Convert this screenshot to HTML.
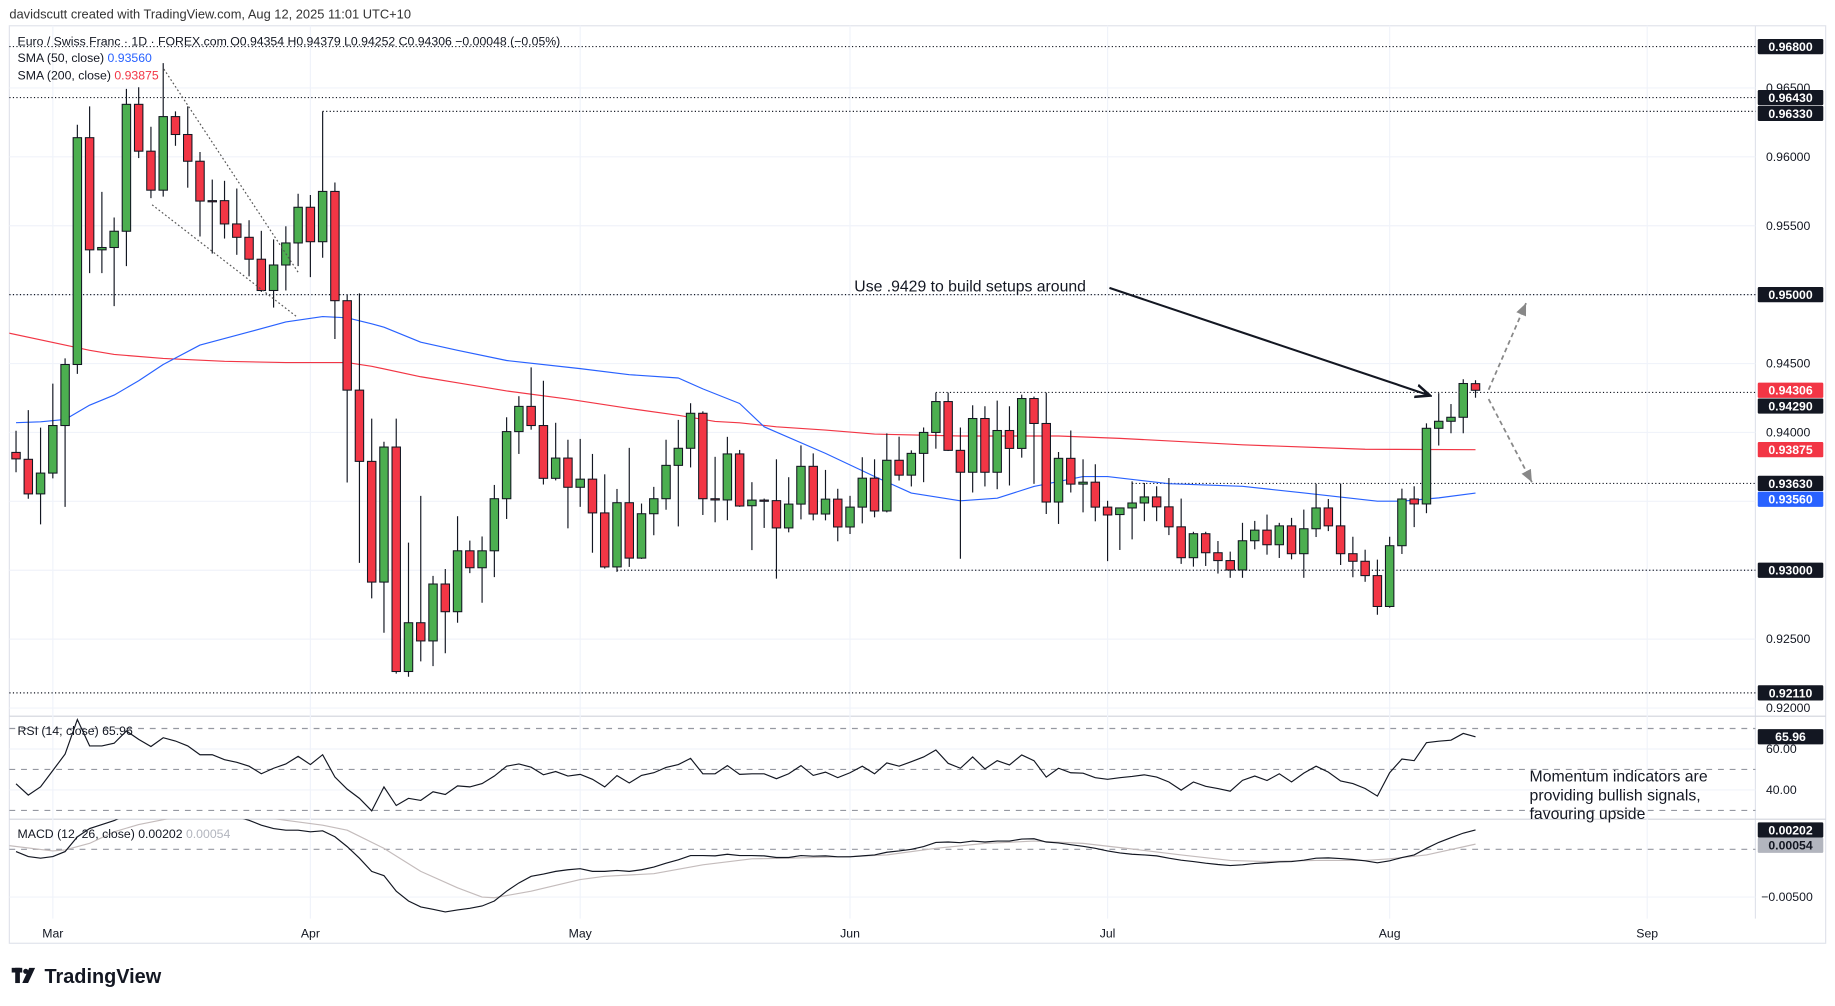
<!DOCTYPE html>
<html><head><meta charset="utf-8">
<style>
html,body{margin:0;padding:0;background:#fff;}
svg{display:block;font-family:"Liberation Sans",sans-serif;}
</style></head>
<body>
<svg id="chart" width="1835" height="1006" viewBox="0 0 1568 859.6" xmlns="http://www.w3.org/2000/svg">
  <rect x="0" y="0" width="1568" height="859.6" fill="#ffffff"/>
  <text x="8" y="16" font-size="11" fill="#333">davidscutt created with TradingView.com, Aug 12, 2025 11:01 UTC+10</text>
  <rect x="8" y="22" width="1552" height="784" fill="none" stroke="#e0e3eb" stroke-width="1"/>
  <line x1="1500" y1="22" x2="1500" y2="785" stroke="#e0e3eb"/>
  <line x1="8" y1="612" x2="1560" y2="612" stroke="#d1d4dc"/>
  <line x1="8" y1="700" x2="1560" y2="700" stroke="#d1d4dc"/>
  <defs>
    <clipPath id="mainClip"><rect x="8" y="22" width="1492" height="590"/></clipPath>
    <clipPath id="rsiClip"><rect x="8" y="612" width="1492" height="88"/></clipPath>
    <clipPath id="macdClip"><rect x="8" y="700" width="1492" height="85"/></clipPath>
  </defs>
  <g id="grid"></g>
  <g id="levels"></g>
  <g id="main" clip-path="url(#mainClip)"></g>
  <g id="rsi" clip-path="url(#rsiClip)"></g>
  <g id="macd" clip-path="url(#macdClip)"></g>
  <g id="axis"></g>
  <g id="notes"></g>
  <text x="15" y="39" font-size="10.5" fill="#131722">Euro / Swiss Franc · 1D · FOREX.com  O0.94354  H0.94379  L0.94252  C0.94306  −0.00048 (−0.05%)</text>
  <text x="15" y="53" font-size="10.5" fill="#131722">SMA (50, close) <tspan fill="#2962ff">0.93560</tspan></text>
  <text x="15" y="68" font-size="10.5" fill="#131722">SMA (200, close) <tspan fill="#f23645">0.93875</tspan></text>
  <text x="15" y="628" font-size="10.5" fill="#131722">RSI (14, close)  65.96</text>
  <text x="15" y="716" font-size="10.5" fill="#131722">MACD (12, 26, close)  0.00202  <tspan fill="#b2b5be">0.00054</tspan></text>
  <g>
    <rect x="10" y="827" width="9" height="4" fill="#131722"/>
    <rect x="13" y="827" width="4" height="13" fill="#131722"/>
    <circle cx="22" cy="830" r="2.2" fill="#131722"/>
    <polygon points="25,827 30,827 24,840 19,840" fill="#131722"/>
    <text x="38" y="840" font-size="17" font-weight="bold" fill="#131722">TradingView</text>
  </g>
</svg>
<script>
// ---------- data ----------
const opens=[0.93855,0.93805,0.93554,0.93705,0.9405,0.94493,0.96139,0.95325,0.95342,0.9546,
0.96381,0.96041,0.95758,0.96292,0.96162,0.95968,0.95682,0.95682,0.95513,0.95416,
0.95257,0.9503,0.95215,0.95375,0.95634,0.95384,0.95749,0.94956,0.94307,0.9379,
0.92914,0.93894,0.92265,0.92619,0.92487,0.929,0.92699,0.93141,0.93018,0.93141,
0.93519,0.94006,0.94189,0.9405,0.93667,0.93814,0.93602,0.93661,0.93416,0.93024,
0.9349,0.93088,0.9341,0.93519,0.93761,0.93885,0.94139,0.93519,0.9351,0.93844,
0.93468,0.93509,0.93505,0.93307,0.9348,0.93754,0.93408,0.93516,0.93314,0.93458,
0.93668,0.9343,0.93798,0.9369,0.93848,0.94,0.94224,0.9387,0.93711,0.94101,
0.93711,0.94014,0.93884,0.94246,0.94065,0.93495,0.93812,0.93625,0.93639,0.93458,
0.93404,0.93452,0.93488,0.93532,0.9346,0.93315,0.93091,0.93265,0.93127,0.9307,
0.93002,0.93214,0.93291,0.93185,0.93322,0.9312,0.93301,0.93452,0.93322,0.9312,
0.93065,0.92961,0.92737,0.93178,0.93517,0.93481,0.9403,0.94081,0.9411,0.94354];
const highs=[0.94012,0.94162,0.94035,0.94354,0.94537,0.96233,0.96366,0.95746,0.9556,0.96493,
0.96505,0.96218,0.9668,0.9633,0.96366,0.96035,0.95835,0.95826,0.9577,0.9554,
0.95463,0.95401,0.95496,0.95732,0.95723,0.9633,0.95814,0.95,0.95009,0.941,
0.93932,0.941,0.932,0.9354,0.92959,0.93009,0.93392,0.93215,0.93245,0.93619,
0.9411,0.94263,0.94472,0.94375,0.9407,0.93947,0.93953,0.93844,0.93696,0.9359,
0.93888,0.93484,0.93605,0.93947,0.94091,0.94212,0.94153,0.93823,0.93968,0.93873,
0.93639,0.9352,0.93805,0.93675,0.93906,0.93848,0.93728,0.93591,0.9354,0.9382,
0.93805,0.93993,0.93969,0.9387,0.94036,0.94289,0.94289,0.94036,0.94197,0.9419,
0.94231,0.9419,0.94274,0.9426,0.94289,0.93858,0.94014,0.93805,0.93769,0.93504,
0.93452,0.93645,0.93633,0.93609,0.93669,0.9352,0.93279,0.93279,0.93212,0.93135,
0.93344,0.93358,0.93404,0.93344,0.9338,0.9344,0.93628,0.93517,0.93628,0.93243,
0.93149,0.93077,0.93243,0.93592,0.93609,0.94066,0.94285,0.94206,0.94386,0.94379];
const lows=[0.93711,0.93519,0.93333,0.93667,0.9346,0.94425,0.95156,0.95156,0.94917,0.95207,
0.95991,0.957,0.95711,0.9608,0.95776,0.95422,0.95298,0.95407,0.95289,0.95133,
0.9502,0.94906,0.9503,0.95207,0.95127,0.95268,0.94678,0.93637,0.93053,0.92796,
0.92546,0.9225,0.92227,0.92339,0.92304,0.92398,0.92619,0.92979,0.92764,0.9295,
0.93372,0.93844,0.9402,0.93622,0.93652,0.93304,0.9346,0.93127,0.93012,0.92988,
0.93024,0.93082,0.93254,0.93439,0.93318,0.93746,0.93401,0.93348,0.93363,0.9346,
0.93146,0.93307,0.92939,0.93275,0.93369,0.93362,0.93362,0.9321,0.93263,0.9334,
0.93384,0.9342,0.93651,0.93608,0.93639,0.93882,0.93865,0.93083,0.93564,0.93608,
0.93588,0.93615,0.93817,0.93627,0.93408,0.93336,0.93564,0.9342,0.93355,0.93066,
0.93147,0.93224,0.93356,0.93356,0.93255,0.93046,0.93026,0.93031,0.92976,0.92945,
0.92945,0.93152,0.93113,0.93089,0.93079,0.92945,0.93241,0.93284,0.93038,0.92949,
0.92916,0.92677,0.92728,0.93118,0.93313,0.93414,0.93905,0.93994,0.93994,0.94252];
const closes=[0.93808,0.93554,0.93705,0.9405,0.94493,0.96139,0.95325,0.95342,0.9546,0.96381,
0.96041,0.95758,0.96292,0.96162,0.95968,0.95679,0.95679,0.95513,0.95416,0.95257,
0.9503,0.95215,0.95375,0.95634,0.95384,0.95749,0.94956,0.94307,0.9379,0.92914,
0.93894,0.92265,0.92619,0.92487,0.929,0.92699,0.93141,0.93018,0.93141,0.93519,
0.94006,0.94189,0.9405,0.93667,0.93814,0.93602,0.93661,0.93416,0.93024,0.9349,
0.93088,0.9341,0.93519,0.93761,0.93885,0.94139,0.93519,0.9351,0.93844,0.93466,
0.93509,0.93505,0.93307,0.9348,0.93754,0.93408,0.93516,0.93314,0.93458,0.93668,
0.9343,0.93798,0.9369,0.93848,0.94,0.94224,0.9387,0.93711,0.94101,0.93711,
0.94014,0.93884,0.94246,0.94065,0.93495,0.93812,0.93625,0.93639,0.93458,0.93401,
0.93452,0.93488,0.93532,0.9346,0.93315,0.93091,0.93265,0.93127,0.9307,0.93002,
0.93214,0.93291,0.93185,0.93322,0.9312,0.93301,0.93452,0.93322,0.9312,0.93065,
0.92961,0.92737,0.93178,0.93517,0.93481,0.9403,0.94081,0.9411,0.94355,0.94306];
const sma50Idx=[0,2,4,6,8,10,12,15,19,22,25,27,29,30,33,36,40,46,50,54,56,59,61,66,70,73,77,80,83,87,89,94,100,105,111,113,116,119];
const sma50Val=[0.94071,0.94077,0.94094,0.94198,0.94271,0.94375,0.94493,0.94634,0.94729,0.94802,0.94841,0.94832,0.94788,0.94764,0.94655,0.94596,0.94522,0.94463,0.94419,0.94395,0.94316,0.9421,0.94041,0.93848,0.9368,0.9356,0.93504,0.93523,0.93608,0.9368,0.9368,0.93628,0.93609,0.93561,0.93501,0.93501,0.93525,0.9356];
const sma200Idx=[-1,4,6,8,12,17,22,27,29,33,36,40,45,50,54,57,59,62,66,70,77,85,90,100,110,119];
const sma200Val=[0.94729,0.94634,0.94596,0.94566,0.94537,0.94516,0.94507,0.94507,0.9448,0.94404,0.9436,0.94301,0.94242,0.94174,0.94124,0.9408,0.9407,0.94041,0.94017,0.93988,0.93974,0.93974,0.93957,0.9391,0.93878,0.93875];
const rsiVals=[43,37.5,41.5,49.5,57.5,74.4,61.5,61.5,62.8,68.8,
64.7,61.2,65.5,63.9,61.5,57.2,57.2,54.8,53.5,51.6,
47.9,50.6,52.7,56.4,52.4,57.2,46.3,40.4,35.9,29.8,
41.5,32.4,35.9,34.9,39.1,37.8,42,41.5,43.1,46.8,
51.6,52.7,51.1,47.4,49,46.8,47.6,45.2,41.5,47,
43.4,47.1,48.4,51,52.4,55.4,47.9,47.9,51.9,47.6,
47.9,47.9,45.5,47.9,51.9,47.1,48.7,46,48.4,51.6,
47.9,53.2,51.6,53.8,56.1,59.5,53,50.6,56.1,50.3,
54.3,52.2,57.1,54.3,46.3,50.6,48.4,48.2,46,45.2,
46,46.6,47.4,46.3,43.9,39.9,43.9,41.8,40.7,39.4,
44.7,46.8,44.6,47.9,43.9,48.2,51.6,48.7,44.4,43.1,
40.7,37,48.4,55.1,54.3,63.1,63.8,64.3,67.6,65.96];
const macdVals=[-0.00024,-0.00076,-0.00093,-0.00076,-0.00024,0.0013,0.00217,0.00259,0.003,0.0036,
0.0042,0.0047,0.005,0.0051,0.005,0.0047,0.0043,0.0039,0.0034,0.00303,
0.00252,0.00217,0.002,0.002,0.00183,0.00193,0.00131,0.00028,-0.00093,-0.00231,
-0.00276,-0.00438,-0.00541,-0.00603,-0.00628,-0.00655,-0.00634,-0.00617,-0.00593,-0.00541,
-0.00438,-0.00352,-0.00283,-0.00259,-0.00231,-0.00214,-0.00203,-0.00231,-0.00231,-0.00221,
-0.00231,-0.00214,-0.00186,-0.00145,-0.0011,-0.00066,-0.00066,-0.00069,-0.00052,-0.00066,
-0.00066,-0.00069,-0.00086,-0.00086,-0.00066,-0.00072,-0.00069,-0.00079,-0.00079,-0.00069,
-0.00059,-0.00031,-0.00017,0,0.00028,0.00072,0.00076,0.00069,0.00086,0.00076,
0.00086,0.00086,0.00107,0.0011,0.00076,0.00066,0.00048,0.00031,0.0001,-0.00017,
-0.00038,-0.00052,-0.00059,-0.00069,-0.00093,-0.00114,-0.00128,-0.00145,-0.00159,-0.0017,
-0.00162,-0.00148,-0.00141,-0.00131,-0.00128,-0.00114,-0.00093,-0.0009,-0.00097,-0.00107,
-0.00121,-0.00141,-0.00121,-0.00086,-0.00059,0.0001,0.00072,0.00121,0.00169,0.00202];
const signalIdx=[-1,3,4,6,8,10,12,14,17,20,22,25,27,30,33,36,38,39,42,46,48,52,56,60,63,68,71,75,79,83,87,91,95,99,102,106,110,112,115,119];
const signalVals=[0.00045,-0.00017,-0.00007,0.00062,0.00183,0.00259,0.0031,0.0036,0.0038,0.0034,0.00303,0.00252,0.002,0.0001,-0.00231,-0.00403,-0.005,-0.00507,-0.00438,-0.00317,-0.00283,-0.00255,-0.00162,-0.001,-0.00093,-0.00076,-0.00059,0.0001,0.00062,0.00086,0.00062,0.00003,-0.00059,-0.00117,-0.00128,-0.00117,-0.00117,-0.001,-0.00059,0.00054];
const monthIdx=[3,24,46,68,89,112,133];
const monthLabels=["Mar","Apr","May","Jun","Jul","Aug","Sep"];
const priceTicks=[0.965,0.96,0.955,0.95,0.945,0.94,0.935,0.93,0.925,0.92];
const priceTickLabels=["0.96500","0.96000","0.95500","","0.94500","0.94000","","","0.92500","0.92000"];
const levelPrices=[0.968,0.9643,0.9633,0.95,0.9429,0.9363,0.93,0.9211];
const levelStart=[-2,-2,25,-2,75,91,49,-2];
const boxPrices=[0.968,0.9643,0.9633,0.95,0.94306,0.9429,0.93875,0.9363,0.9356,0.93,0.9211];
const boxLabels=["0.96800","0.96430","0.96330","0.95000","0.94306","0.94290","0.93875","0.93630","0.93560","0.93000","0.92110"];
const boxColors=["#131722","#131722","#131722","#131722","#f23645","#131722","#f23645","#131722","#2962ff","#131722","#131722"];

// ---------- scales ----------
const NS="http://www.w3.org/2000/svg";
function X(i){return 13.7+i*10.48;}
function Y(p){return 134+(0.96-p)*11775;}
function RY(v){return 657.5-(v-50)*1.75;}
function MY(m){return 725.7-m*8170;}
function mk(tag,attrs,parent){const e=document.createElementNS(NS,tag);for(const k in attrs)e.setAttribute(k,attrs[k]);parent.appendChild(e);return e;}
const grid=document.getElementById('grid'),levels=document.getElementById('levels'),main=document.getElementById('main'),
rsi=document.getElementById('rsi'),macd=document.getElementById('macd'),axis=document.getElementById('axis'),notes=document.getElementById('notes');

// grid
priceTicks.forEach((p,k)=>{
  const l=mk('line',{x1:8,x2:1500,y1:Y(p),y2:Y(p),stroke:'#f0f3fa'},grid);
  
  
  if(priceTickLabels[k]){
    const t=mk('text',{x:1509,y:Y(p)+3.5,'font-size':10.5,fill:'#131722'},axis);
    t.textContent=priceTickLabels[k];
    
    
  }
});
monthIdx.forEach((i,k)=>{
  const l=mk('line',{x1:X(i),x2:X(i),y1:22,y2:785,stroke:'#f0f3fa'},grid);
  
  
  const t=mk('text',{x:X(i),y:801,'font-size':10.5,fill:'#131722','text-anchor':'middle'},axis);
  t.textContent=monthLabels[k];
  
  
});
// rsi/macd grid + bands
[60,40].forEach(v=>{const l=mk('line',{x1:8,x2:1500,y1:RY(v),y2:RY(v),stroke:'#f0f3fa'},grid);});
[70,50,30].forEach(v=>{const l=mk('line',{x1:8,x2:1500,y1:RY(v),y2:RY(v),stroke:'#9598a1','stroke-dasharray':'5,5'},grid);});
{const l=mk('line',{x1:8,x2:1500,y1:MY(-0.005),y2:MY(-0.005),stroke:'#f0f3fa'},grid);}
{const l=mk('line',{x1:8,x2:1500,y1:MY(0),y2:MY(0),stroke:'#9598a1','stroke-dasharray':'5,5'},grid);}
[["60.00",60],["40.00",40]].forEach(a=>{const t=mk('text',{x:1509,y:RY(a[1])+3.5,'font-size':10.5,fill:'#131722'},axis);t.textContent=a[0];});
{const t=mk('text',{x:1505,y:MY(-0.005)+3.5,'font-size':10.5,fill:'#131722'},axis);t.textContent="−0.00500";}

// horizontal levels
levelPrices.forEach((p,k)=>{
  const l=mk('line',{x1:Math.max(8,X(levelStart[k])),x2:1500,y1:Y(p),y2:Y(p),stroke:'#131722','stroke-dasharray':'1,2','stroke-width':1},levels);
  
  
});

// SMAs
function poly(idx,vals,fy,color,parent,name,w){
  const pts=idx.map((i,k)=>X(i)+','+fy(vals[k])).join(' ');
  const pl=mk('polyline',{points:pts,fill:'none',stroke:color,'stroke-width':w||1,'stroke-linejoin':'round'},parent);
  return pl;
}
const s200=poly(sma200Idx,sma200Val,Y,'#f23645',main);


const s50=poly(sma50Idx,sma50Val,Y,'#2962ff',main);



// candles
opens.forEach((o,i)=>{
  const c=closes[i],h=highs[i],lo=lows[i];
  const g=mk('g',{},main);
  
  
  mk('line',{x1:X(i),x2:X(i),y1:Y(h),y2:Y(lo),stroke:'#131722','stroke-width':1},g);
  const top=Y(Math.max(o,c)),bot=Y(Math.min(o,c));
  mk('rect',{x:X(i)-3.6,y:top,width:7.2,height:Math.max(1,bot-top),fill:c>=o?'#4caf50':'#f23645',stroke:'#131722','stroke-width':0.9},g);
});

// wedge lines
[[140,59,255,233],[130,175,254,271]].forEach(a=>{
  const l=mk('line',{x1:a[0],y1:a[1],x2:a[2],y2:a[3],stroke:'#555','stroke-dasharray':'1.5,2','stroke-width':1},notes);
  
  
});

// RSI
{const pts=rsiVals.map((v,i)=>X(i)+','+RY(v)).join(' ');
 const pl=mk('polyline',{points:pts,fill:'none',stroke:'#131722','stroke-width':1},rsi);
 
 }
// MACD
{const sl=poly(signalIdx,signalVals,MY,'#c4bcbc',macd);
 
 
 const pts=macdVals.map((v,i)=>X(i)+','+MY(v)).join(' ');
 const pl=mk('polyline',{points:pts,fill:'none',stroke:'#131722','stroke-width':1},macd);
 
 }

// price boxes with collision
const boxes=boxPrices.map((p,k)=>({y:Y(p),k}));
boxes.sort((a,b)=>a.y-b.y);
for(let j=1;j<boxes.length;j++){if(boxes[j].y<boxes[j-1].y+13.5)boxes[j].y=boxes[j-1].y+13.5;}
function box(y,label,color,name,txtColor){
  const g=mk('g',{},axis);
  
  
  mk('rect',{x:1502,y:y-6.5,width:56,height:13,fill:color,rx:1},g);
  const t=mk('text',{x:1530,y:y+3.8,'font-size':10.5,'font-weight':'bold',fill:txtColor||'#fff','text-anchor':'middle'},g);
  t.textContent=label;
}
boxes.forEach(b=>box(b.y,boxLabels[b.k],boxColors[b.k],'price-label-box'));
box(RY(rsiVals[rsiVals.length-1]),"65.96","#131722",'rsi-value-box');
box(MY(macdVals[macdVals.length-1]),"0.00202","#131722",'macd-value-box');
box(MY(signalVals[signalVals.length-1])+1,"0.00054","#b2b5be",'signal-value-box','#131722');

// annotations
mk('defs',{},notes).innerHTML='<marker id="ah" markerWidth="8" markerHeight="8" refX="7" refY="4" orient="auto"><path d="M0,1 L7,4 L0,7" fill="none" stroke="#131722" stroke-width="1.2"/></marker><marker id="ahg" markerWidth="8" markerHeight="8" refX="7" refY="4" orient="auto"><path d="M0,1 L7,4 L0,7 z" fill="#888"/></marker>';
{const t=mk('text',{x:730,y:249,'font-size':13.5,fill:'#131722'},notes);
 t.textContent="Use .9429 to build setups around";
 
 }
{const l=mk('line',{x1:948,y1:246,x2:1222,y2:338,stroke:'#131722','stroke-width':1.8,'marker-end':'url(#ah)'},notes);
 
 }
{const l=mk('line',{x1:1272,y1:333,x2:1304,y2:259,stroke:'#888','stroke-width':1.5,'stroke-dasharray':'4,3','marker-end':'url(#ahg)'},notes);
 
 }
{const l=mk('line',{x1:1272,y1:341,x2:1309,y2:412,stroke:'#888','stroke-width':1.5,'stroke-dasharray':'4,3','marker-end':'url(#ahg)'},notes);
 
 }
["Momentum indicators are","providing bullish signals,","favouring upside"].forEach((s,k)=>{
  const t=mk('text',{x:1307,y:668+k*16,'font-size':13.5,fill:'#131722'},notes);
  t.textContent=s;
  
  
});
</script>
</body></html>
